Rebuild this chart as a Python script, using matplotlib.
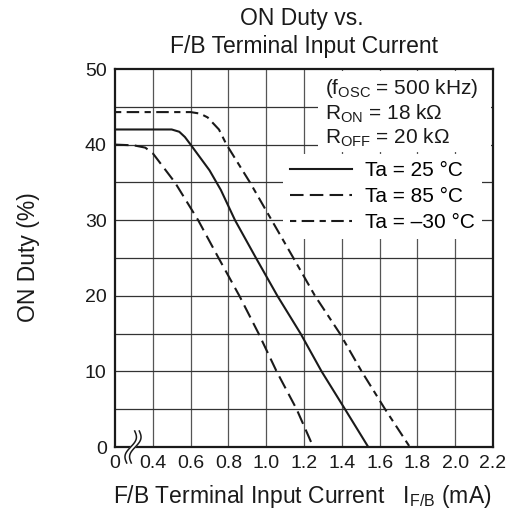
import numpy as np
import matplotlib
matplotlib.use("Agg")
import matplotlib.pyplot as plt
from matplotlib.patches import Rectangle

plt.rcParams['font.family'] = ['Liberation Sans', 'DejaVu Sans']
plt.rcParams['mathtext.fontset'] = 'custom'
plt.rcParams['mathtext.rm'] = 'Liberation Sans'
plt.rcParams['mathtext.it'] = 'Liberation Sans'

# datos (eje x: 0.2 se muestra como "0", el eje esta cortado)
x_25 = [0.2, 0.50, 0.54, 0.57, 0.60, 0.65, 0.70, 0.76, 0.835, 0.946, 1.059, 1.182, 1.293, 1.417, 1.54]
y_25 = [42.0, 42.0, 41.7, 41.0, 40.0, 38.3, 36.6, 34.0, 30.0, 25.0, 20.0, 15.0, 10.0, 5.0, 0.0]

x_85 = [0.2, 0.30, 0.36, 0.40, 0.517, 0.64, 0.748, 0.858, 0.96, 1.055, 1.161, 1.249]
y_85 = [40.0, 39.9, 39.6, 38.85, 35.0, 30.0, 25.0, 20.0, 15.0, 10.0, 5.0, 0.0]

x_m30 = [0.2, 0.60, 0.65, 0.69, 0.75, 0.79, 0.914, 1.029, 1.144, 1.258, 1.39, 1.505, 1.629, 1.76]
y_m30 = [44.3, 44.3, 44.1, 43.6, 42.0, 40.0, 35.0, 30.0, 25.0, 20.0, 15.0, 10.0, 5.0, 0.0]

x_ticks = [0.2, 0.4, 0.6, 0.8, 1.0, 1.2, 1.4, 1.6, 1.8, 2.0, 2.2]
x_ticklabels = ['0', '0.4', '0.6', '0.8', '1.0', '1.2', '1.4', '1.6', '1.8', '2.0', '2.2']
y_ticks = [0, 10, 20, 30, 40, 50]

W, H = 515, 520
fig = plt.figure(figsize=(W / 100, H / 100), dpi=100)
ax = fig.add_axes([115 / W, 1 - 447 / H, 378 / W, 378 / H])

ax.set_xlim(0.2, 2.2)
ax.set_ylim(0, 50)

# rejilla
for xv in np.arange(0.4, 2.1, 0.2):
    ax.axvline(xv, color='#555555', lw=0.9, zorder=1)
for yv in range(5, 50, 5):
    ax.axhline(yv, color='#333333', lw=0.9, zorder=1)

ax.plot(x_25, y_25, color='#1a1a1a', lw=1.5, ls='-', label='Ta = 25 \u00b0C', zorder=4)
ax.plot(x_85, y_85, color='#1a1a1a', lw=1.5, ls=(0, (6.5, 3)), label='Ta = 85 \u00b0C', zorder=4)
ax.plot(x_m30, y_m30, color='#1a1a1a', lw=1.5, ls=(0, (3, 2.6, 6, 2.6)),
        label='Ta = \u201330 \u00b0C', zorder=4)

ax.set_xticks(x_ticks)
ax.set_xticklabels(x_ticklabels)
ax.set_yticks(y_ticks)
ax.tick_params(length=0, labelsize=14, pad=6, colors='#1a1a1a')
for s in ax.spines.values():
    s.set_linewidth(1.6)
    s.set_color('#1a1a1a')

# caja de condiciones
ax.add_patch(Rectangle(((318 - 115) / 378, (447 - 152) / 378), (491 - 318) / 378, (152 - 71) / 378,
                       transform=ax.transAxes, facecolor='white', edgecolor='none', zorder=3))
params = ['(f$_\\mathregular{OSC}$ = 500 kHz)', 'R$_\\mathregular{ON}$ = 18 k\u03a9',
          'R$_\\mathregular{OFF}$ = 20 k\u03a9']
for i, t in enumerate(params):
    ax.text((325 - 115) / 378, (447 - (89 + 24.5 * i)) / 378, t, transform=ax.transAxes,
            fontsize=15, va='center', ha='left', color='#1a1a1a', zorder=5)

leg = ax.legend(loc='upper right', bbox_to_anchor=((482 - 115) / 378, (447 - 154) / 378),
                borderaxespad=0, frameon=True, fancybox=False, fontsize=15,
                handlelength=3.0, handletextpad=0.6, labelspacing=0.33, borderpad=0.35)
leg.get_frame().set_edgecolor('none')
leg.get_frame().set_facecolor('white')
leg.get_frame().set_alpha(1)
leg.set_zorder(3)

# marca de corte del eje x
t = np.linspace(-1, 1, 60)
cx = (133 - 115) / 378
for off in (-2.3, 2.3):
    xs = cx + (4 * t + 3.5 * np.sin(np.pi * t) + off) / 378
    ys = (16 * t) / 378
    ax.plot(xs, ys, transform=ax.transAxes, color='#1a1a1a', lw=1.1, clip_on=False, zorder=6)
ax.plot(cx + (4 * t + 3.5 * np.sin(np.pi * t)) / 378, (16 * t) / 378, transform=ax.transAxes,
        color='white', lw=3.2, clip_on=False, zorder=5, solid_capstyle='butt')

fig.text(302 / W, 1 - 19 / H, 'ON Duty vs.', fontsize=16.5, ha='center', va='center', color='#1a1a1a')
fig.text(304 / W, 1 - 46 / H, 'F/B Terminal Input Current', fontsize=16.5, ha='center', va='center',
         color='#1a1a1a')
fig.text(29 / W, 1 - 257 / H, 'ON Duty (%)', fontsize=16.5, rotation=90, ha='center', va='center',
         color='#1a1a1a')
fig.text(302 / W, 1 - 497 / H, 'F/B Terminal Input Current   I$_\\mathregular{F/B}$ (mA)', fontsize=16.5,
         ha='center', va='center', color='#1a1a1a')

fig.savefig('out.png', dpi=100)
